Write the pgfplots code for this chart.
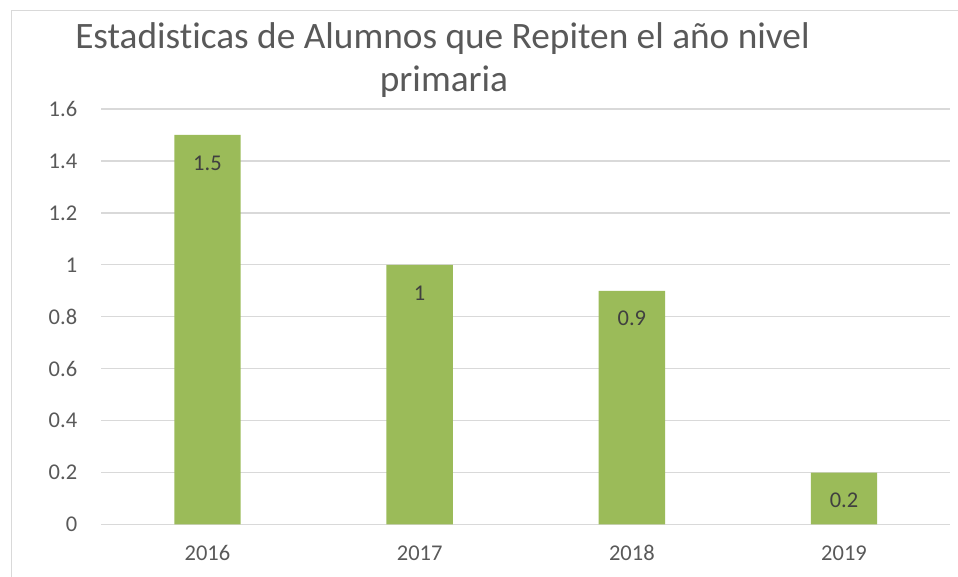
\documentclass[border=0pt]{standalone}
\usepackage{pgfplots}
\pgfplotsset{compat=1.18}
\usepackage{fontspec}
\setmainfont{Carlito}[Ligatures=NoCommon]
\definecolor{txt}{HTML}{595959}
\definecolor{lbl}{HTML}{404040}
\definecolor{gridc}{HTML}{D9D9D9}
\definecolor{barc}{HTML}{9BBB59}
\begin{document}
\begin{tikzpicture}[x=1pt,y=1pt]
\useasboundingbox (0,0) rectangle (958,577);
\draw[gridc, line width=1.3pt] (11.5,-10) -- (11.5,566.8) -- (975,566.8);
\node[anchor=base, text=txt, font=\fontsize{37.3}{44}\selectfont, inner sep=0pt] at (442.5,528.5) {Estadisticas de Alumnos que Repiten el año nivel};
\node[anchor=base, text=txt, font=\fontsize{37.3}{44}\selectfont, inner sep=0pt] at (444,485.5) {primaria};
\begin{axis}[
  at={(101.4pt,52.5pt)}, anchor=south west,
  scale only axis, width=848.7pt, height=415.5pt,
  xmin=-0.5, xmax=3.5, ymin=0, ymax=1.6,
  xtick={0,1,2,3}, xticklabels={2016,2017,2018,2019},
  ytick={0,0.2,0.4,0.6,0.8,1,1.2,1.4,1.6},
  yticklabels={0,0.2,0.4,0.6,0.8,1,1.2,1.4,1.6},
  axis line style={draw=none},
  major tick length=0pt,
  ymajorgrids, grid style={gridc, line width=1.3pt},
  yticklabel style={anchor=east, inner sep=0pt, xshift=-24pt, text=txt, font=\fontsize{22.5}{27}\selectfont},
  xticklabel style={anchor=center, inner sep=0pt, yshift=-28.5pt, text=txt, font=\fontsize{22.5}{27}\selectfont},
  ybar, bar width=66.4pt,
  /pgf/number format/assume math mode=true,
  nodes near coords,
  nodes near coords style={anchor=center, inner sep=0pt, yshift=-28pt, text=lbl, font=\fontsize{22.5}{27}\selectfont},
  clip=false,
]
\addplot[fill=barc, draw=none] coordinates {(0,1.5) (1,1) (2,0.9) (3,0.2)};
\end{axis}
\end{tikzpicture}
\end{document}
